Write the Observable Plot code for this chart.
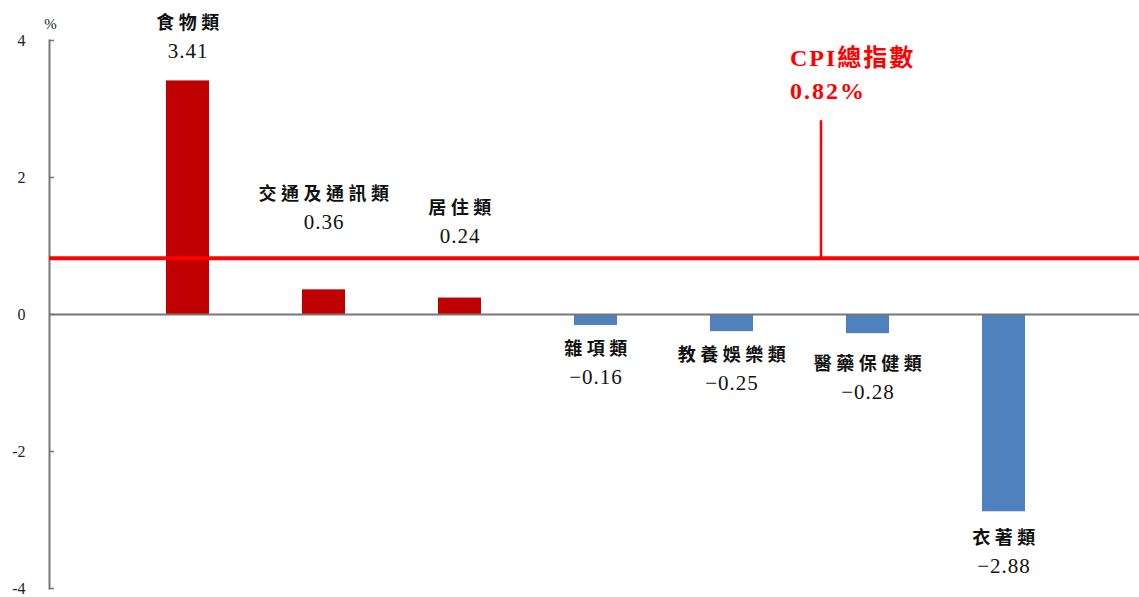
<!DOCTYPE html>
<html>
<head>
<meta charset="utf-8">
<script src="https://cdn.jsdelivr.net/npm/d3@7"></script>
<script src="https://cdn.jsdelivr.net/npm/@observablehq/plot@0.6"></script>
<style>
  html, body { margin: 0; padding: 0; background: #fff; }
  svg { overflow: visible; }
</style>
</head>
<body>
<div id="chart"></div>
<script>
// ---- data ----
const categories = ["食物類", "交通及通訊類", "居住類", "雜項類", "教養娛樂類", "醫藥保健類", "衣著類"];
const values = [3.41, 0.36, 0.24, -0.16, -0.25, -0.28, -2.88];
const cpiName = "CPI總指數";
const cpiValue = 0.82;
const yTicks = [-4, -2, 0, 2, 4];

// ---- layout (pixel offsets of value labels from bar ends) ----
const labelGap = [-30, -68, -62, 52, 52, 59, 54];
const nameGap = 28;

const W = 1139, H = 597, mT = 40, mB = 9, mL = 49, mR = 0;
const k = (H - mT - mB) / 8; // pixels per unit

const rows = categories.map((c, i) => ({
  cat: c,
  v: values[i],
  vy: values[i] - labelGap[i] / k,
  ny: values[i] - (labelGap[i] - nameGap) / k
}));

const fmt = d3.format(".2f");
const red = "#ff0000";

const chart = Plot.plot({
  width: W, height: H,
  marginTop: mT, marginBottom: mB, marginLeft: mL, marginRight: mR,
  style: {background: "#fff"},
  x: {domain: categories, paddingInner: 0.685, paddingOuter: 0.3425, insetLeft: 69, insetRight: 67, axis: null},
  y: {domain: [-4, 4]},
  marks: [
    Plot.axisY({ticks: yTicks, tickSize: 0, tickPadding: 24, tickFormat: d => String(d),
      fontSize: 16, fontFamily: "Liberation Serif", fill: "#222", label: null}),
    Plot.ruleY(yTicks, {stroke: "#777", strokeWidth: 1.5, insetRight: W - mL - mR - 5}),
    Plot.frame({anchor: "left", stroke: "#777", strokeWidth: 2}),
    Plot.barY(rows, {x: "cat", y: "v", fill: d => d.v >= 0 ? "#c00000" : "#4f81bd"}),
    Plot.ruleY([0], {stroke: "#777", strokeWidth: 2}),
    Plot.ruleY([cpiValue], {stroke: red, strokeWidth: 4}),
    Plot.ruleX([cpiValue], {x: () => "醫藥保健類", y1: cpiValue, y2: 2.83, dx: -47, stroke: red, strokeWidth: 2.5}),
    Plot.text([cpiName + "\n" + cpiValue.toFixed(2) + "%"], {
      x: () => "醫藥保健類", y: 3.54, dx: -78, textAnchor: "start", lineHeight: 1.375,
      fill: red, fontSize: 24, fontWeight: "bold",
      fontFamily: "'Liberation Serif', 'Noto Sans CJK TC', serif"
    }),
    Plot.text(rows, {x: "cat", y: "ny", text: "cat", fontSize: 18, fontWeight: "bold", dx: 2,
      fontFamily: "'Noto Sans CJK TC', sans-serif", fill: "#111"}),
    Plot.text(rows, {x: "cat", y: "vy", text: d => fmt(d.v), fontSize: 21,
      fontFamily: "'Liberation Serif', serif", fill: "#111"}),
    Plot.text(["%"], {frameAnchor: "top-left", dx: 1, dy: -22, textAnchor: "middle",
      fontSize: 15, fontFamily: "'Liberation Serif', serif", fill: "#222"})
  ]
});
const valueLabels = values.map(fmt);
d3.select(chart).selectAll("text").each(function() {
  const t = this.textContent;
  if (categories.includes(t)) this.setAttribute("letter-spacing", "4.5px");
  else if (valueLabels.includes(t)) this.setAttribute("letter-spacing", "1px");
  else if (t.startsWith("CPI")) this.setAttribute("letter-spacing", "2px");
});
document.getElementById("chart").appendChild(chart);
</script>
</body>
</html>
